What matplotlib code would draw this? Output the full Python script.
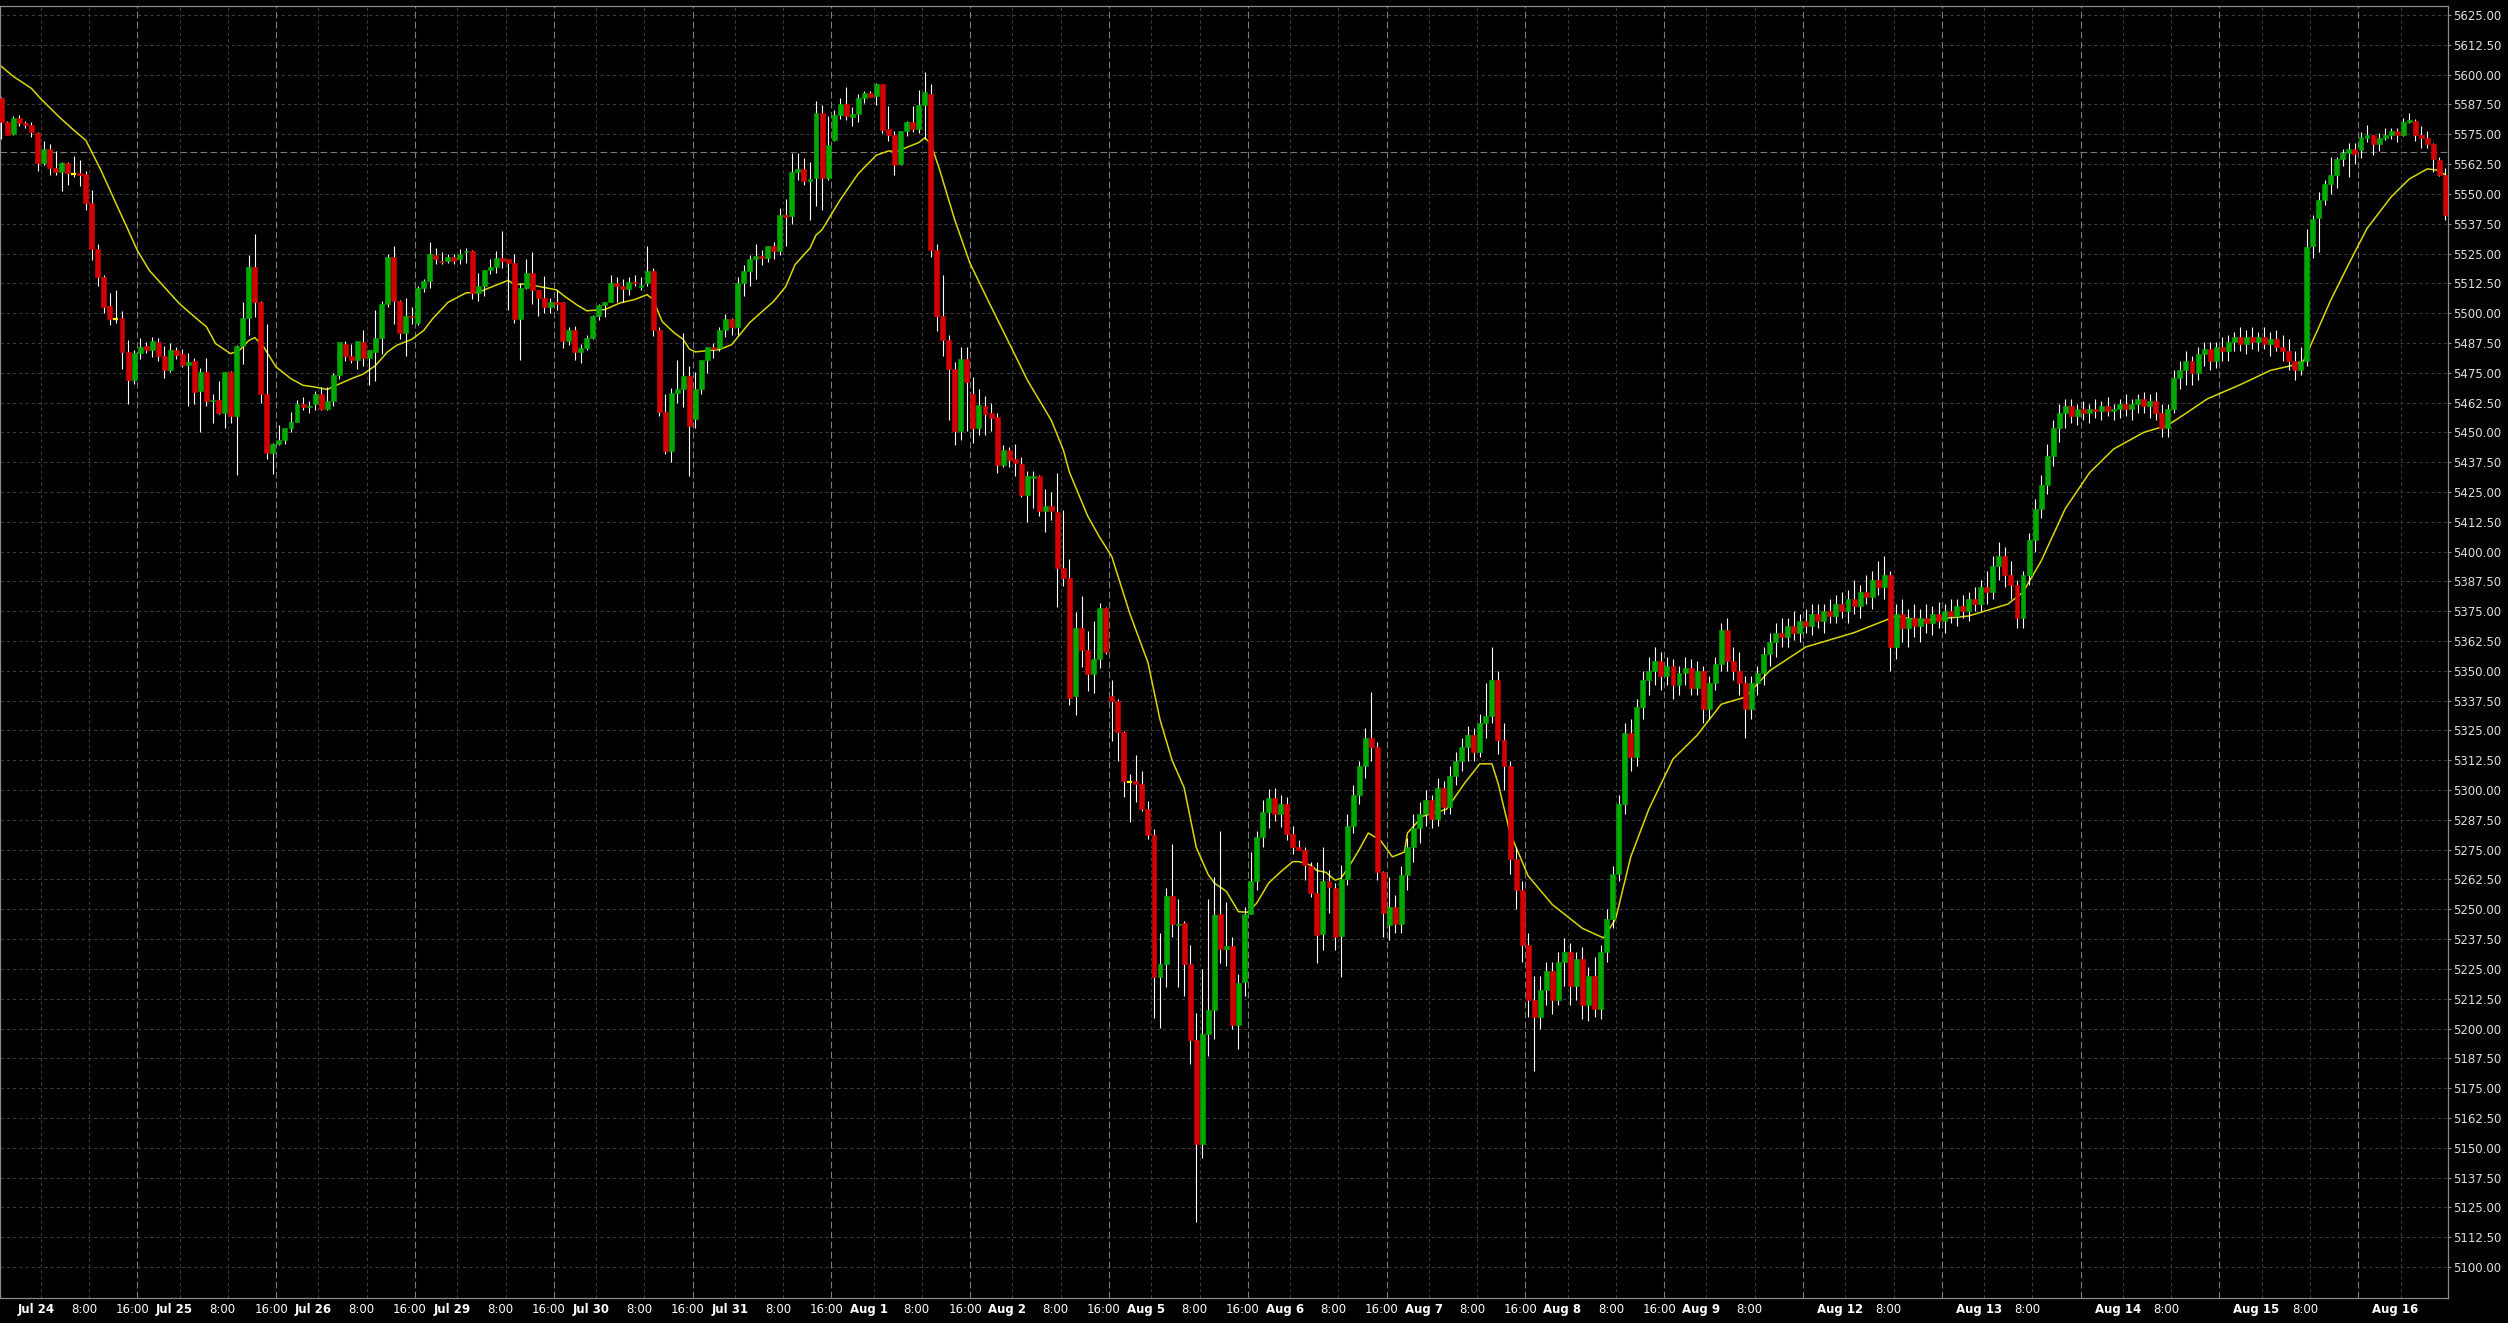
import matplotlib
matplotlib.use("Agg")
import matplotlib.pyplot as plt
import numpy as np

# hourly bars, first bar = Jul 23 16:00, 23 bars per session day
day_names = ['Jul 24', 'Jul 25', 'Jul 26', 'Jul 29', 'Jul 30', 'Jul 31', 'Aug 1', 'Aug 2',
             'Aug 5', 'Aug 6', 'Aug 7', 'Aug 8', 'Aug 9', 'Aug 12', 'Aug 13', 'Aug 14',
             'Aug 15', 'Aug 16']
first_day_bar = 7
bars_per_day = 23

opens = [
    5590.25, 5580.25, 5575.0, 5581.75, 5579.75, 5579.0, 5575.5,
    # Jul 24
    5563.0, 5568.75, 5561.0, 5559.25, 5563.0, 5558.5, 5558.75, 5558.25, 5546.25, 5527.0, 5515.0, 5503.0,
    5497.75, 5498.0, 5483.75, 5472.0, 5483.25, 5486.25, 5484.5, 5488.0, 5482.0, 5476.0, 5484.5,
    # Jul 25
    5482.75, 5478.25, 5480.0, 5467.25, 5475.5, 5463.0, 5463.75, 5458.25, 5475.5, 5457.0, 5486.25, 5498.0,
    5519.5, 5504.5, 5466.25, 5441.5, 5445.0, 5447.0, 5451.75, 5454.5, 5462.0, 5460.5, 5461.75,
    # Jul 26
    5466.25, 5460.0, 5463.0, 5474.25, 5487.25, 5482.0, 5480.5, 5487.75, 5481.25, 5483.5, 5489.75, 5504.0,
    5523.5, 5505.25, 5491.5, 5499.0, 5496.0, 5510.75, 5513.5, 5524.5, 5522.0, 5521.75, 5523.5,
    # Jul 29
    5522.5, 5525.5, 5526.25, 5508.25, 5511.5, 5518.25, 5519.25, 5523.0, 5522.5, 5521.0, 5497.5, 5510.75,
    5517.0, 5509.5, 5506.5, 5502.75, 5504.5, 5504.5, 5488.5, 5492.75, 5483.75, 5485.5, 5489.75,
    # Jul 30
    5499.0, 5503.25, 5504.75, 5512.5, 5511.5, 5510.0, 5513.25, 5511.0, 5512.5, 5517.5, 5492.75, 5458.75,
    5442.0, 5466.5, 5468.0, 5473.5, 5455.75, 5468.0, 5480.5, 5486.0, 5485.5, 5492.75, 5497.75,
    # Jul 31
    5494.25, 5512.75, 5517.5, 5522.5, 5524.0, 5523.0, 5528.25, 5526.25, 5541.25, 5540.75, 5559.25, 5560.5,
    5555.5, 5556.75, 5584.0, 5556.75, 5572.5, 5583.0, 5587.75, 5582.25, 5583.5, 5590.25, 5592.25,
    # Aug 1
    5591.0, 5596.0, 5577.25, 5574.75, 5562.5, 5576.5, 5580.0, 5577.25, 5587.25, 5592.0, 5526.5, 5498.75,
    5488.75, 5476.5, 5450.5, 5480.75, 5466.0, 5451.75, 5461.0, 5458.0, 5456.5, 5436.25, 5442.75,
    # Aug 2
    5438.75, 5436.75, 5423.75, 5430.75, 5431.75, 5417.0, 5419.25, 5416.75, 5393.0, 5389.0, 5339.25, 5368.0,
    5358.75, 5348.5, 5355.0, 5376.25, 5339.25, 5337.25, 5324.5, 5303.5, 5304.0, 5302.75, 5292.0,
    # Aug 5
    5281.25, 5221.75, 5227.0, 5255.5, 5243.5, 5244.25, 5227.0, 5195.0, 5151.75, 5197.75, 5207.75, 5248.0,
    5233.5, 5234.75, 5201.5, 5219.5, 5248.0, 5261.75, 5280.5, 5291.0, 5296.5, 5290.0, 5294.0,
    # Aug 6
    5281.5, 5276.0, 5275.0, 5268.0, 5257.0, 5239.75, 5262.0, 5259.0, 5238.75, 5262.5, 5285.0, 5298.0,
    5310.0, 5322.0, 5318.0, 5265.5, 5243.25, 5251.0, 5244.0, 5264.5, 5276.0, 5284.0, 5290.0,
    # Aug 7
    5296.0, 5288.0, 5301.0, 5293.0, 5306.0, 5312.0, 5318.0, 5323.0, 5316.0, 5328.0, 5331.0, 5346.0,
    5321.0, 5310.0, 5271.0, 5258.0, 5235.0, 5212.0, 5205.0, 5216.0, 5224.0, 5212.0, 5228.0,
    # Aug 8
    5232.0, 5218.0, 5229.0, 5210.0, 5222.0, 5208.0, 5232.0, 5246.0, 5265.0, 5294.0, 5324.0, 5314.0,
    5335.0, 5346.0, 5350.0, 5354.0, 5348.0, 5352.0, 5344.0, 5349.0, 5351.0, 5343.0, 5350.0,
    # Aug 9
    5334.0, 5345.0, 5353.0, 5367.0, 5354.0, 5350.0, 5345.0, 5334.0, 5345.0, 5349.0, 5357.0, 5362.0,
    5366.0, 5364.0, 5369.0, 5366.0, 5371.0, 5369.0, 5374.0, 5371.0, 5375.0, 5373.0, 5378.0,
    # Aug 12
    5375.0, 5380.0, 5377.0, 5383.0, 5381.0, 5388.0, 5385.0, 5390.0, 5360.0, 5374.0, 5368.0, 5372.0,
    5369.0, 5372.0, 5370.0, 5374.0, 5371.0, 5375.0, 5373.0, 5377.0, 5375.0, 5380.0, 5378.0,
    # Aug 13
    5385.0, 5383.0, 5394.0, 5398.0, 5390.0, 5386.0, 5372.0, 5390.0, 5405.0, 5418.0, 5428.0, 5440.0,
    5452.0, 5458.0, 5461.0, 5457.0, 5460.0, 5458.0, 5460.0, 5459.0, 5461.0, 5459.0, 5460.0,
    # Aug 14
    5462.0, 5460.0, 5462.0, 5464.0, 5461.0, 5463.0, 5458.0, 5452.0, 5460.0, 5473.0, 5476.0, 5480.0,
    5475.0, 5483.0, 5485.0, 5480.0, 5486.0, 5484.0, 5488.0, 5490.0, 5487.0, 5490.0, 5488.0,
    # Aug 15
    5490.0, 5487.0, 5489.0, 5486.0, 5484.0, 5480.0, 5476.0, 5480.0, 5528.25, 5540.0, 5547.5, 5554.0,
    5558.0, 5564.5, 5567.0, 5568.75, 5568.5, 5573.25, 5574.5, 5571.0, 5573.5, 5574.5, 5576.25,
    # Aug 16
    5574.5, 5580.0, 5580.5, 5574.5, 5573.5, 5571.0, 5564.25, 5558.0,
]

highs = [
    5590.75, 5580.5, 5582.75, 5583.0, 5580.5, 5580.0, 5576.0,
    5572.0, 5571.0, 5568.0, 5563.5, 5563.5, 5565.75, 5564.25, 5559.5, 5551.5, 5529.0, 5516.0, 5508.5,
    5509.5, 5501.0, 5488.75, 5484.5, 5489.75, 5488.0, 5490.0, 5489.5, 5486.25, 5487.5, 5485.75,
    5485.0, 5483.25, 5481.25, 5477.0, 5481.0, 5466.0, 5471.5, 5475.5, 5475.75, 5486.5, 5504.5, 5524.5,
    5533.0, 5505.25, 5495.5, 5445.5, 5453.0, 5451.75, 5458.75, 5463.5, 5464.75, 5463.0, 5467.25,
    5469.0, 5469.0, 5474.75, 5487.75, 5488.25, 5487.0, 5488.25, 5492.75, 5484.5, 5501.5, 5505.25, 5525.0,
    5528.0, 5505.5, 5506.5, 5502.5, 5511.5, 5514.5, 5530.0, 5527.25, 5525.5, 5525.0, 5525.0,
    5526.75, 5527.5, 5526.5, 5516.75, 5518.25, 5522.5, 5526.25, 5534.25, 5522.75, 5525.0, 5512.5, 5522.5,
    5525.5, 5509.75, 5515.75, 5506.25, 5509.5, 5504.75, 5494.0, 5494.5, 5487.25, 5490.75, 5499.25,
    5504.0, 5504.75, 5516.0, 5515.0, 5514.5, 5515.25, 5516.0, 5515.0, 5528.0, 5518.75, 5494.25, 5466.25,
    5468.75, 5480.5, 5491.5, 5478.0, 5475.5, 5480.5, 5486.0, 5487.5, 5494.0, 5499.5, 5498.0,
    5515.0, 5520.0, 5524.5, 5529.0, 5526.5, 5528.25, 5530.0, 5544.25, 5548.0, 5567.25, 5567.25, 5565.0,
    5563.5, 5589.0, 5587.25, 5582.75, 5585.25, 5590.25, 5594.75, 5586.5, 5592.0, 5593.0, 5593.0,
    5596.5, 5596.25, 5587.0, 5576.5, 5576.5, 5580.5, 5587.0, 5593.5, 5601.0, 5596.0, 5529.0, 5516.0,
    5490.75, 5479.5, 5485.75, 5485.75, 5473.25, 5468.25, 5465.25, 5462.25, 5458.0, 5444.75, 5444.0,
    5445.25, 5439.75, 5433.75, 5433.75, 5432.0, 5426.25, 5425.0, 5433.0, 5417.5, 5397.0, 5374.5, 5381.5,
    5366.5, 5370.75, 5378.5, 5376.75, 5346.0, 5338.25, 5324.75, 5306.75, 5314.5, 5308.0, 5295.25,
    5283.75, 5240.0, 5259.0, 5277.5, 5254.25, 5245.25, 5235.0, 5206.5, 5225.0, 5254.5, 5263.5, 5283.0,
    5253.0, 5238.5, 5223.0, 5251.0, 5274.0, 5283.0, 5296.0, 5300.5, 5301.0, 5298.0, 5297.0,
    5285.0, 5279.0, 5276.0, 5270.0, 5270.0, 5276.0, 5266.5, 5261.0, 5268.5, 5290.0, 5302.0, 5312.0,
    5326.0, 5341.0, 5320.0, 5266.0, 5263.75, 5256.0, 5268.0, 5280.0, 5290.0, 5295.0, 5300.0,
    5298.0, 5305.0, 5304.0, 5310.0, 5316.0, 5322.0, 5327.0, 5326.0, 5332.0, 5345.0, 5360.0, 5350.0,
    5328.0, 5312.0, 5276.0, 5262.0, 5240.0, 5222.0, 5222.0, 5228.0, 5228.0, 5232.0, 5238.0,
    5236.0, 5232.0, 5234.0, 5226.0, 5230.0, 5235.0, 5250.0, 5268.0, 5298.0, 5328.0, 5330.0, 5338.0,
    5350.0, 5356.0, 5360.0, 5358.0, 5356.0, 5355.0, 5352.0, 5356.0, 5355.0, 5354.0, 5352.0,
    5348.0, 5356.0, 5370.0, 5372.0, 5360.0, 5358.0, 5348.0, 5348.0, 5352.0, 5360.0, 5366.0, 5370.0,
    5372.0, 5372.0, 5375.0, 5374.0, 5376.0, 5378.0, 5378.0, 5378.0, 5380.0, 5382.0, 5383.0,
    5384.0, 5388.0, 5386.0, 5390.0, 5392.0, 5396.0, 5398.0, 5392.0, 5378.0, 5380.0, 5376.0, 5378.0,
    5376.0, 5378.0, 5377.0, 5379.0, 5378.0, 5380.0, 5380.0, 5382.0, 5383.0, 5385.0, 5388.0,
    5392.0, 5398.0, 5404.0, 5402.0, 5396.0, 5388.0, 5392.0, 5408.0, 5422.0, 5432.0, 5445.0, 5455.0,
    5462.0, 5464.0, 5464.0, 5462.0, 5463.0, 5462.0, 5464.0, 5463.0, 5465.0, 5462.0, 5464.0,
    5466.0, 5464.0, 5466.0, 5467.0, 5466.0, 5467.0, 5462.0, 5462.0, 5476.0, 5480.0, 5484.0, 5482.0,
    5486.0, 5488.0, 5488.0, 5488.0, 5490.0, 5491.0, 5492.0, 5494.0, 5493.0, 5494.0, 5492.0,
    5494.0, 5492.0, 5493.0, 5491.0, 5489.0, 5484.0, 5486.0, 5535.25, 5541.0, 5550.75, 5555.75, 5565.5,
    5565.5, 5568.75, 5571.25, 5571.25, 5576.0, 5579.0, 5574.75, 5575.5, 5577.5, 5577.5, 5577.5,
    5581.75, 5584.0, 5581.5, 5578.5, 5576.25, 5571.25, 5565.5, 5560.75,
]

lows = [
    5573.0, 5574.5, 5574.75, 5578.5, 5577.5, 5574.0, 5559.5,
    5562.0, 5558.0, 5558.0, 5551.25, 5553.75, 5557.25, 5553.25, 5543.25, 5522.25, 5511.5, 5500.0, 5495.0,
    5495.75, 5476.5, 5462.0, 5470.25, 5480.75, 5483.25, 5481.5, 5480.0, 5472.75, 5475.25, 5480.75,
    5477.5, 5461.25, 5462.0, 5450.25, 5461.0, 5453.75, 5457.5, 5451.75, 5453.75, 5432.0, 5478.5, 5490.75,
    5498.5, 5462.5, 5438.75, 5432.75, 5444.5, 5445.0, 5450.0, 5454.25, 5459.5, 5458.0, 5459.5,
    5459.5, 5459.25, 5461.25, 5472.25, 5479.75, 5479.0, 5476.5, 5477.75, 5469.75, 5471.5, 5482.75, 5502.5,
    5495.25, 5489.0, 5482.0, 5495.25, 5495.0, 5509.0, 5510.75, 5520.5, 5520.5, 5521.0, 5520.5,
    5520.5, 5521.0, 5505.75, 5505.25, 5507.0, 5516.25, 5517.0, 5518.75, 5501.25, 5496.0, 5480.5, 5510.0,
    5504.0, 5499.0, 5500.0, 5500.0, 5501.25, 5485.25, 5486.5, 5480.5, 5479.0, 5484.5, 5489.0,
    5497.0, 5498.5, 5504.5, 5504.5, 5504.75, 5507.75, 5511.5, 5509.5, 5511.5, 5490.5, 5457.0, 5441.0,
    5437.75, 5462.5, 5460.75, 5431.75, 5452.0, 5466.25, 5475.0, 5481.0, 5484.25, 5490.0, 5491.0,
    5491.0, 5507.25, 5511.5, 5514.5, 5520.0, 5521.25, 5522.5, 5524.5, 5528.25, 5537.5, 5556.0, 5553.75,
    5539.0, 5545.0, 5543.25, 5555.75, 5572.0, 5581.5, 5581.0, 5578.5, 5580.0, 5588.0, 5590.5,
    5587.25, 5575.5, 5572.25, 5558.0, 5562.25, 5574.25, 5576.0, 5575.5, 5573.0, 5523.5, 5492.5, 5482.0,
    5455.25, 5444.75, 5446.75, 5450.5, 5445.75, 5449.0, 5449.0, 5450.5, 5433.0, 5435.5, 5435.5,
    5431.75, 5423.0, 5412.5, 5418.25, 5415.0, 5408.25, 5413.25, 5376.75, 5385.5, 5335.75, 5331.5, 5351.75,
    5341.75, 5340.5, 5351.25, 5357.0, 5320.5, 5312.0, 5297.25, 5286.5, 5295.0, 5291.25, 5279.5,
    5204.25, 5200.25, 5217.25, 5238.5, 5217.5, 5213.75, 5185.0, 5119.0, 5145.5, 5188.5, 5195.5, 5227.5,
    5226.25, 5200.0, 5191.5, 5213.75, 5248.0, 5258.0, 5276.0, 5284.0, 5287.0, 5284.5, 5279.0,
    5273.0, 5275.0, 5262.25, 5255.0, 5227.5, 5232.75, 5248.25, 5233.0, 5221.5, 5260.0, 5282.0, 5294.0,
    5305.0, 5312.0, 5262.25, 5238.25, 5237.0, 5240.25, 5240.0, 5258.0, 5270.0, 5278.0, 5285.0,
    5284.0, 5285.0, 5290.0, 5290.0, 5302.0, 5308.0, 5312.0, 5312.0, 5314.0, 5322.0, 5328.0, 5315.0,
    5300.0, 5265.0, 5250.0, 5228.0, 5205.0, 5182.0, 5200.0, 5210.0, 5206.0, 5210.0, 5218.0,
    5210.0, 5212.0, 5204.0, 5203.0, 5205.0, 5204.0, 5228.0, 5242.0, 5262.0, 5290.0, 5308.0, 5310.0,
    5330.0, 5340.0, 5344.0, 5342.0, 5344.0, 5338.0, 5340.0, 5344.0, 5340.0, 5340.0, 5328.0,
    5330.0, 5342.0, 5350.0, 5350.0, 5346.0, 5340.0, 5322.0, 5330.0, 5340.0, 5344.0, 5352.0, 5356.0,
    5360.0, 5360.0, 5363.0, 5362.0, 5366.0, 5365.0, 5368.0, 5366.0, 5370.0, 5370.0, 5372.0,
    5370.0, 5374.0, 5372.0, 5378.0, 5376.0, 5382.0, 5380.0, 5350.0, 5355.0, 5362.0, 5360.0, 5364.0,
    5362.0, 5366.0, 5365.0, 5368.0, 5366.0, 5370.0, 5369.0, 5372.0, 5371.0, 5375.0, 5375.0,
    5378.0, 5380.0, 5388.0, 5385.0, 5380.0, 5368.0, 5368.0, 5386.0, 5400.0, 5414.0, 5424.0, 5436.0,
    5446.0, 5452.0, 5454.0, 5453.0, 5455.0, 5454.0, 5456.0, 5455.0, 5457.0, 5455.0, 5456.0,
    5457.0, 5455.0, 5458.0, 5458.0, 5456.0, 5455.0, 5448.0, 5448.0, 5458.0, 5468.0, 5470.0, 5470.0,
    5472.0, 5478.0, 5476.0, 5477.0, 5480.0, 5480.0, 5484.0, 5484.0, 5483.0, 5485.0, 5484.0,
    5485.0, 5482.0, 5484.0, 5480.0, 5476.0, 5472.0, 5474.0, 5478.0, 5523.25, 5525.75, 5545.25, 5550.0,
    5552.5, 5561.75, 5557.0, 5562.5, 5565.0, 5571.75, 5566.25, 5568.0, 5572.5, 5573.0, 5571.75,
    5574.25, 5579.75, 5572.25, 5569.25, 5569.25, 5559.25, 5557.5, 5539.0,
]

closes = [
    5580.25, 5574.75, 5581.75, 5579.75, 5579.0, 5576.0, 5563.0,
    5568.75, 5561.0, 5559.25, 5563.0, 5558.75, 5558.5, 5558.0, 5546.25, 5527.0, 5515.0, 5502.5, 5497.75,
    5497.75, 5483.75, 5472.0, 5483.25, 5485.75, 5484.5, 5488.25, 5482.0, 5476.0, 5484.5, 5482.5,
    5478.25, 5479.5, 5467.0, 5475.5, 5463.0, 5463.75, 5458.0, 5475.25, 5456.75, 5486.25, 5498.0, 5519.5,
    5504.5, 5466.25, 5441.25, 5445.0, 5447.0, 5451.75, 5454.5, 5461.75, 5460.5, 5461.25, 5466.25,
    5460.0, 5463.0, 5474.25, 5487.75, 5482.0, 5480.25, 5488.25, 5481.0, 5484.5, 5489.75, 5504.0, 5523.5,
    5505.25, 5491.5, 5499.0, 5498.25, 5510.75, 5513.5, 5525.0, 5522.5, 5521.25, 5523.5, 5522.0,
    5525.0, 5526.25, 5508.25, 5511.25, 5518.0, 5519.5, 5523.0, 5522.0, 5521.0, 5497.5, 5510.75, 5517.0,
    5509.5, 5506.25, 5502.75, 5504.5, 5503.75, 5488.5, 5492.75, 5483.5, 5485.5, 5489.5, 5499.0,
    5503.25, 5504.5, 5512.5, 5511.5, 5510.0, 5513.25, 5512.5, 5512.0, 5517.5, 5492.75, 5458.75, 5442.0,
    5466.5, 5468.0, 5473.5, 5452.5, 5468.0, 5480.5, 5486.0, 5485.0, 5492.75, 5497.75, 5494.25,
    5512.5, 5517.5, 5522.5, 5524.0, 5523.25, 5528.0, 5526.25, 5541.25, 5540.5, 5559.25, 5560.5, 5555.5,
    5556.25, 5584.0, 5556.75, 5570.5, 5583.0, 5587.75, 5582.75, 5583.5, 5590.25, 5592.25, 5590.5,
    5596.0, 5576.75, 5574.75, 5562.0, 5576.25, 5580.0, 5577.25, 5587.25, 5592.75, 5526.5, 5498.75, 5488.75,
    5476.5, 5450.5, 5480.75, 5471.0, 5451.75, 5461.5, 5457.75, 5456.0, 5436.5, 5442.75, 5438.5,
    5437.0, 5423.75, 5431.75, 5431.75, 5417.0, 5419.25, 5417.0, 5393.0, 5389.0, 5338.75, 5368.0, 5358.75,
    5348.5, 5355.0, 5376.5, 5358.0, 5337.25, 5324.5, 5304.0, 5303.5, 5302.75, 5292.0, 5281.25,
    5221.5, 5227.0, 5255.5, 5244.0, 5244.0, 5227.0, 5195.0, 5151.75, 5197.75, 5207.75, 5247.75, 5233.5,
    5234.75, 5201.5, 5219.25, 5248.0, 5261.75, 5280.5, 5291.0, 5296.5, 5290.0, 5294.0, 5281.5,
    5276.0, 5275.0, 5268.5, 5257.0, 5239.25, 5262.0, 5259.5, 5238.5, 5262.5, 5285.0, 5298.0, 5310.0,
    5322.0, 5318.0, 5265.5, 5248.5, 5251.0, 5244.0, 5264.5, 5276.0, 5284.0, 5290.0, 5296.0,
    5288.0, 5301.0, 5293.0, 5306.0, 5312.0, 5318.0, 5323.0, 5316.0, 5328.0, 5331.0, 5346.0, 5321.0,
    5310.0, 5271.0, 5258.0, 5235.0, 5212.0, 5205.0, 5216.0, 5224.0, 5212.0, 5228.0, 5232.0,
    5218.0, 5229.0, 5210.0, 5222.0, 5208.0, 5232.0, 5246.0, 5265.0, 5294.0, 5324.0, 5314.0, 5335.0,
    5346.0, 5350.0, 5354.0, 5348.0, 5352.0, 5344.0, 5349.0, 5351.0, 5343.0, 5350.0, 5334.0,
    5345.0, 5353.0, 5367.0, 5354.0, 5350.0, 5345.0, 5334.0, 5345.0, 5349.0, 5357.0, 5362.0, 5366.0,
    5364.0, 5369.0, 5366.0, 5371.0, 5369.0, 5374.0, 5371.0, 5375.0, 5373.0, 5378.0, 5375.0,
    5380.0, 5377.0, 5383.0, 5381.0, 5388.0, 5385.0, 5390.0, 5360.0, 5374.0, 5368.0, 5372.0, 5369.0,
    5372.0, 5370.0, 5374.0, 5371.0, 5375.0, 5373.0, 5377.0, 5375.0, 5380.0, 5378.0, 5385.0,
    5383.0, 5394.0, 5398.0, 5390.0, 5386.0, 5372.0, 5390.0, 5405.0, 5418.0, 5428.0, 5440.0, 5452.0,
    5458.0, 5461.0, 5457.0, 5460.0, 5458.0, 5460.0, 5459.0, 5461.0, 5459.0, 5460.0, 5462.0,
    5460.0, 5462.0, 5464.0, 5461.0, 5463.0, 5458.0, 5452.0, 5460.0, 5473.0, 5476.0, 5480.0, 5475.0,
    5483.0, 5485.0, 5480.0, 5486.0, 5484.0, 5488.0, 5490.0, 5487.0, 5490.0, 5488.0, 5490.0,
    5487.0, 5489.0, 5486.0, 5484.0, 5480.0, 5476.0, 5480.0, 5527.75, 5539.5, 5547.5, 5554.0, 5558.0,
    5564.5, 5567.0, 5568.75, 5566.75, 5573.75, 5574.5, 5571.0, 5573.5, 5574.5, 5576.25, 5574.5,
    5580.0, 5581.0, 5574.5, 5573.5, 5571.0, 5564.5, 5558.0, 5541.0,
]

# moving average: bar index, price
ma_bar = [0, 2, 5, 6.5, 9.5, 12, 14, 16.5, 19, 21, 22.5, 24.5, 27, 29.5, 32, 34, 35.5, 38, 39.5, 41, 42,
          43.5, 45.5, 48, 50, 52, 54, 55.5, 58, 60, 62, 64, 65.5, 68, 70, 71.5, 74, 77, 79, 81.5, 84,
          85, 87, 89, 92, 93.5, 95.5, 97, 100, 102.5, 105, 107, 108, 109.5, 111.5, 113, 114, 115, 119,
          121, 124, 128, 130, 131.5, 133, 134, 135, 136, 139, 142, 145, 147, 148.5, 150, 152, 153,
          154, 155.5, 158, 160.5, 164, 166.5, 170, 174, 176, 177, 180, 182, 184, 187, 190, 192, 194,
          196, 198, 200, 201, 203, 205, 206.5, 208, 210, 212, 214, 215, 217, 218, 219.5, 221, 222,
          224, 225, 226.5, 228.5, 230.5, 232.5, 233, 235.5, 239.5, 242.5, 245, 247, 248, 250, 253, 257,
          262, 265.5, 267.5, 270, 273, 277, 281, 285, 289, 293, 299, 307, 314, 318, 326, 332.5, 335,
          338, 342, 346, 350, 355, 359, 362, 365.5, 371, 376, 379.5, 381.5, 384, 386, 389, 392, 396,
          399, 402, 403.5, 405]
ma_val = [5603.5, 5599.25, 5594.25, 5590.0, 5582.5, 5576.75, 5572.5, 5560.0, 5546.0, 5535.0, 5526.5,
          5518.0, 5511.0, 5504.0, 5498.5, 5494.25, 5487.25, 5483.0, 5484.5, 5488.5, 5489.75, 5485.75,
          5477.5, 5472.5, 5469.75, 5469.0, 5468.0, 5469.75, 5472.5, 5474.5, 5478.0, 5483.75, 5486.5,
          5489.0, 5492.75, 5497.75, 5504.5, 5508.5, 5508.75, 5511.25, 5513.75, 5512.0, 5512.25, 5511.25,
          5509.75, 5506.75, 5503.25, 5501.0, 5501.5, 5504.25, 5505.75, 5507.75, 5505.75, 5496.5, 5491.75,
          5489.0, 5485.0, 5483.75, 5484.75, 5486.75, 5496.0, 5505.0, 5511.25, 5520.25, 5524.5, 5527.25,
          5532.75, 5535.0, 5547.5, 5558.5, 5566.25, 5568.0, 5567.75, 5569.5, 5571.5, 5573.5, 5571.25,
          5560.0, 5539.0, 5521.0, 5502.75, 5490.0, 5472.0, 5455.0, 5442.5, 5433.25, 5415.0, 5406.0,
          5398.0, 5374.0, 5353.5, 5329.5, 5312.5, 5301.0, 5276.0, 5264.5, 5261.0, 5257.5, 5249.0, 5248.75,
          5252.5, 5261.0, 5265.75, 5270.0, 5270.0, 5268.5, 5266.25, 5265.5, 5262.25, 5263.0, 5270.75,
          5275.0, 5282.0, 5279.0, 5272.0, 5274.0, 5282.0, 5289.0, 5292.0, 5303.0, 5311.0, 5311.0,
          5303.0, 5282.0, 5264.0, 5252.0, 5242.0, 5238.0, 5246.0, 5272.0, 5292.0, 5313.0, 5323.0,
          5336.0, 5339.0, 5350.0, 5360.0, 5366.0, 5373.0, 5371.0, 5373.0, 5378.0, 5383.0, 5396.0,
          5418.0, 5433.0, 5443.0, 5450.0, 5453.0, 5458.0, 5464.0, 5470.0, 5476.0, 5478.0, 5480.0,
          5494.0, 5505.5, 5520.75, 5535.5, 5548.75, 5556.25, 5560.5, 5560.0, 5558.0]

hline_level = 5567.5
y_ticks = np.arange(5100.0, 5625.01, 12.5)

fig = plt.figure(figsize=(25.08, 13.23), dpi=100, facecolor='black')
ax = fig.add_axes([0.0, 25 / 1323, 2448 / 2508, 1292 / 1323], facecolor='black')

n = len(closes)
x = np.arange(n)
o = np.array(opens)
h = np.array(highs)
l = np.array(lows)
c = np.array(closes)

# grid
for yv in y_ticks:
    ax.axhline(yv, color='#3c3c3c', lw=0.75, ls=(0, (3, 3)), zorder=0)
ax.axhline(hline_level, color='#7a7a7a', lw=0.8, ls=(0, (6, 3)), zorder=0)

tick_pos, tick_lab, tick_bold = [], [], []
for d, name in enumerate(day_names):
    start = first_day_bar + bars_per_day * d
    for off, lab in ((0, name), (8, '8:00'), (16, '16:00')):
        b = start + off
        if b > n - 1:
            continue
        bright = off == 16
        ax.axvline(b - 0.45, color='#7a7a7a' if bright else '#3c3c3c', lw=0.8 if bright else 0.75,
                   ls=(0, (6, 3)) if bright else (0, (3, 3)), zorder=0)
        if off == 16 and d >= 12:
            continue
        tick_pos.append(b - 1.3)
        tick_lab.append(lab)
        tick_bold.append(off == 0)

# moving average
ax.plot(ma_bar, ma_val, color='#d8d800', lw=1.1, zorder=2)

# candles
ax.vlines(x, l, h, color='white', lw=0.8, zorder=3)
up = c > o
dn = c < o
eq = c == o
bw = 0.82
ax.bar(x[up], (c - o)[up], bottom=o[up], width=bw, color='#00a800', edgecolor='#00a800', lw=0.4, zorder=4)
ax.bar(x[dn], (c - o)[dn], bottom=o[dn], width=bw, color='#d40000', edgecolor='#d40000', lw=0.4, zorder=4)
ax.hlines(c[eq], x[eq] - bw / 2, x[eq] + bw / 2, color='#ffff00', lw=1.6, zorder=4)

ax.set_xlim(-0.215, 405.42)
ax.set_ylim(5087.0, 5628.8)

ax.yaxis.tick_right()
ax.set_yticks(y_ticks)
ax.set_yticklabels(['%.2f' % v for v in y_ticks])
ax.tick_params(axis='y', colors='#8c8c8c', labelcolor='#e0e0e0', labelsize=8.5, length=2.5, width=0.8, pad=1.5)

ax.set_xticks(tick_pos)
ax.set_xticklabels(tick_lab)
ax.tick_params(axis='x', length=0, labelcolor='white', labelsize=8.5, pad=3.5)
for t, b in zip(ax.get_xticklabels(), tick_bold):
    if b:
        t.set_fontweight('bold')

for s in ax.spines.values():
    s.set_color('#8c8c8c')
    s.set_linewidth(0.9)

fig.savefig('out.png', dpi=100, facecolor='black')
